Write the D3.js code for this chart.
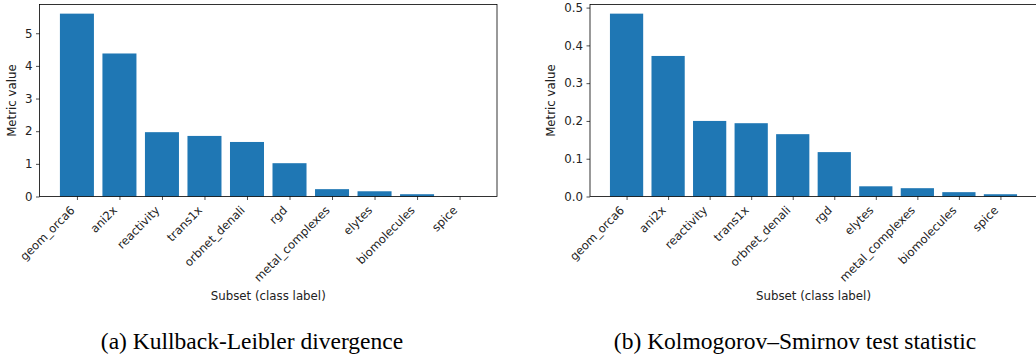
<!DOCTYPE html>
<html>
<head>
<meta charset="utf-8">
<script src="https://cdn.jsdelivr.net/npm/d3@7"></script>
<style>
  html, body { margin: 0; padding: 0; background: #fff; }
  svg { display: block; }
</style>
</head>
<body>
<svg id="chart" width="1036" height="354"></svg>
<script>
// ---- data ----
const klCategories = ["geom_orca6", "ani2x", "reactivity", "trans1x", "orbnet_denali", "rgd", "metal_complexes", "elytes", "biomolecules", "spice"];
const klValues = [5.60, 4.38, 1.97, 1.855, 1.67, 1.02, 0.225, 0.16, 0.07, 0.005];
const klTicks = [0, 1, 2, 3, 4, 5];

const ksCategories = ["geom_orca6", "ani2x", "reactivity", "trans1x", "orbnet_denali", "rgd", "elytes", "metal_complexes", "biomolecules", "spice"];
const ksValues = [0.484, 0.372, 0.200, 0.194, 0.165, 0.1175, 0.027, 0.022, 0.0115, 0.006];
const ksTicks = [0.0, 0.1, 0.2, 0.3, 0.4, 0.5];

const yLabel = "Metric value";
const xLabel = "Subset (class label)";
const captions = ["(a) Kullback-Leibler divergence", "(b) Kolmogorov\u2013Smirnov test statistic"];

// ---- drawing ----
const svg = d3.select("#chart");
const barColor = "#1f77b4";
const fontFam = "'DejaVu Sans', sans-serif";
const fs = 11.8;     // axis labels, y tick labels
const fsX = 11.6;    // rotated x tick labels

function panel(cfg) {
  const { left, right, top, bottom, cats, vals, ticks, fmt, caption, capX, yLabOff } = cfg;
  const g = svg.append("g");
  const n = cats.length;
  const x = d3.scaleLinear().domain([-0.4 - 0.049 * (n - 0.2), n - 1 + 0.4 + 0.049 * (n - 0.2)]).range([left, right]);
  const y = d3.scaleLinear().domain([0, d3.max(vals) * 1.05]).range([bottom, top]);

  g.selectAll("rect.bar").data(vals).join("rect")
    .attr("class", "bar")
    .attr("x", (d, i) => x(i - 0.4))
    .attr("width", (d, i) => x(i + 0.4) - x(i - 0.4))
    .attr("y", d => y(d))
    .attr("height", d => bottom - y(d))
    .attr("fill", barColor);

  // y axis
  const ya = d3.axisLeft(y).tickValues(ticks).tickFormat(fmt).tickSizeOuter(0).tickSize(3.5).tickPadding(3.5);
  const yg = g.append("g").attr("transform", `translate(${left},0)`).call(ya);
  yg.select(".domain").remove();
  yg.selectAll("text").attr("font-family", fontFam).attr("font-size", fs).attr("fill", "#222");
  yg.selectAll("line").attr("stroke", "#222").attr("stroke-width", 0.8);

  // x axis
  const xa = d3.axisBottom(x).tickValues(d3.range(n)).tickFormat(i => cats[i]).tickSizeOuter(0).tickSize(3.5);
  const xg = g.append("g").attr("transform", `translate(0,${bottom})`).call(xa);
  xg.select(".domain").remove();
  xg.selectAll("line").attr("stroke", "#222").attr("stroke-width", 0.8);
  xg.selectAll("text")
    .attr("font-family", fontFam).attr("font-size", fsX).attr("fill", "#222")
    .attr("text-anchor", "end")
    .attr("dy", null).attr("y", null)
    .attr("transform", "translate(-2,14.5) rotate(-45)");

  // spines
  g.append("rect").attr("x", left).attr("y", top).attr("width", right - left).attr("height", bottom - top)
    .attr("fill", "none").attr("stroke", "#000").attr("stroke-width", 0.8);

  // labels
  g.append("text").attr("transform", `translate(${left - yLabOff},${(top + bottom) / 2}) rotate(-90)`)
    .attr("text-anchor", "middle").attr("font-family", fontFam).attr("font-size", fs).attr("fill", "#222")
    .text(yLabel);
  g.append("text").attr("x", (left + right) / 2).attr("y", 299.5)
    .attr("text-anchor", "middle").attr("font-family", fontFam).attr("font-size", fs).attr("fill", "#222")
    .text(xLabel);
  g.append("text").attr("x", capX).attr("y", 349)
    .attr("text-anchor", "middle").attr("font-family", "'Liberation Serif', 'Times New Roman', serif")
    .attr("font-size", 23.5).attr("fill", "#000")
    .text(caption);
}

panel({ left: 39.5, right: 497, top: 4.5, bottom: 196.5, cats: klCategories, vals: klValues, ticks: klTicks,
        fmt: d3.format("d"), caption: captions[0], capX: 252, yLabOff: 24 });
panel({ left: 590, right: 1037, top: 4.5, bottom: 196.5, cats: ksCategories, vals: ksValues, ticks: ksTicks,
        fmt: d3.format(".1f"), caption: captions[1], capX: 795, yLabOff: 35 });
</script>
</body>
</html>
